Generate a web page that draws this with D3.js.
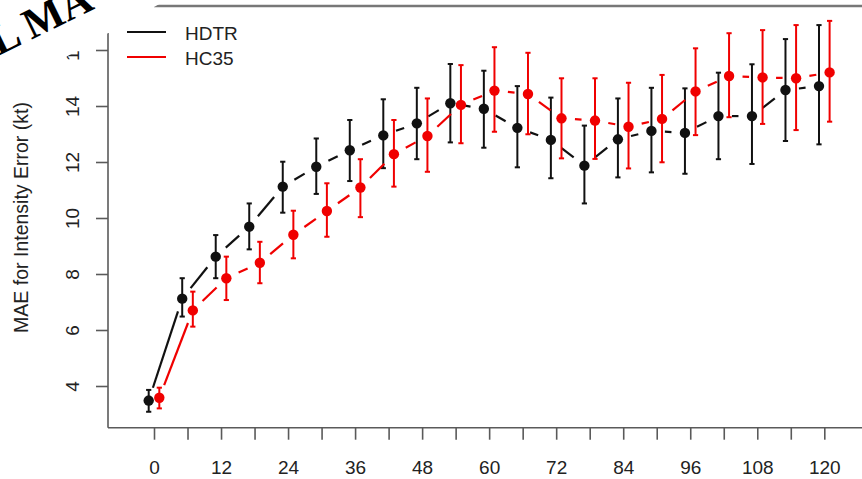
<!DOCTYPE html>
<html>
<head>
<meta charset="utf-8">
<script src="https://cdn.jsdelivr.net/npm/d3@7/dist/d3.min.js"></script>
<style>
  body { margin: 0; background: #fff; }
  svg { display: block; }
</style>
</head>
<body>
<svg id="chart" width="862" height="479"></svg>
<script>
// Forecast lead times (h)
const hours = [0, 6, 12, 18, 24, 30, 36, 42, 48, 54, 60, 66, 72, 78, 84, 90, 96, 102, 108, 114, 120];
const xTickLabels = [0, 12, 24, 36, 48, 60, 72, 84, 96, 108, 120];
const yTicks = [4, 6, 8, 10, 12, 14, 16];

// HDTR: mean absolute intensity error and its interval
const hdtr   = [3.48, 7.12, 8.62, 9.69, 11.12, 11.83, 12.42, 12.95, 13.38, 14.10, 13.90, 13.22, 12.79, 11.87, 12.81, 13.11, 13.04, 13.64, 13.64, 14.57, 14.71];
const hdtrLo = [3.08, 6.48, 7.85, 8.88, 10.19, 10.86, 11.32, 11.78, 12.10, 12.70, 12.51, 11.81, 11.42, 10.52, 11.45, 11.63, 11.58, 12.10, 11.93, 12.75, 12.63];
const hdtrHi = [3.86, 7.85, 9.39, 10.52, 12.01, 12.84, 13.50, 14.24, 14.65, 15.50, 15.26, 14.71, 14.30, 13.30, 14.27, 14.65, 14.63, 15.19, 15.49, 16.39, 16.89];

// HC35: mean absolute intensity error and its interval
const hc35   = [3.58, 6.70, 7.85, 8.40, 9.40, 10.25, 11.09, 12.28, 12.93, 14.04, 14.55, 14.43, 13.56, 13.48, 13.26, 13.54, 14.52, 15.07, 15.02, 14.99, 15.20];
const hc35Lo = [3.20, 6.12, 7.07, 7.67, 8.56, 9.33, 10.03, 11.12, 11.65, 12.67, 13.08, 12.99, 12.13, 12.11, 11.77, 11.99, 12.96, 13.60, 13.36, 13.14, 13.44];
const hc35Hi = [3.94, 7.37, 8.62, 9.15, 10.26, 11.24, 12.10, 13.50, 14.27, 15.46, 16.10, 15.90, 14.99, 14.99, 14.83, 15.11, 16.06, 16.60, 16.71, 16.89, 17.04];

const seriesNames = ["HDTR", "HC35"];
const seriesColors = ["#111111", "#f00000"];

const svg = d3.select("#chart");
const FONT = "'Liberation Sans', Arial, Helvetica, sans-serif";
const AXIS = "#5a5a5a";
const TEXT = "#222";

const x = d3.scaleLinear().domain([0, 120]).range([154, 824.3]);
const y = d3.scaleLinear().domain([4, 16]).range([386, 50]);
const xAxisY = 427.7, yAxisX = 108, plotTop = 33;

// Axis lines (L-shaped frame)
svg.append("line").attr("x1", yAxisX).attr("x2", 862).attr("y1", xAxisY).attr("y2", xAxisY)
  .attr("stroke", AXIS).attr("stroke-width", 1.6);
svg.append("line").attr("x1", yAxisX).attr("x2", yAxisX).attr("y1", plotTop).attr("y2", xAxisY)
  .attr("stroke", AXIS).attr("stroke-width", 1.6);

// Bottom axis: tick every 6 h, labels every 12 h
const xAxis = d3.axisBottom(x).tickValues(hours).tickSize(12)
  .tickFormat(d => xTickLabels.includes(d) ? String(d) : "");
const gx = svg.append("g").attr("transform", `translate(0,${xAxisY})`).call(xAxis);
gx.select(".domain").remove();
gx.selectAll(".tick line").attr("stroke", AXIS).attr("stroke-width", 1.6);
gx.selectAll(".tick text").attr("y", 46).attr("dy", 0)
  .attr("fill", TEXT).style("font-family", FONT).style("font-size", "19px");

// Left axis with rotated labels
const yAxis = d3.axisLeft(y).tickValues(yTicks).tickSize(12).tickFormat(d => String(d));
const gy = svg.append("g").attr("transform", `translate(${yAxisX},0)`).call(yAxis);
gy.select(".domain").remove();
gy.selectAll(".tick line").attr("stroke", AXIS).attr("stroke-width", 1.6);
gy.selectAll(".tick text").attr("x", null).attr("dy", null)
  .attr("transform", "translate(-29,0) rotate(-90)")
  .attr("text-anchor", "middle")
  .attr("fill", TEXT).style("font-family", FONT).style("font-size", "19px");

// Y axis title
svg.append("text")
  .attr("transform", `translate(28,${(93 + 342) / 2}) rotate(-90)`)
  .attr("text-anchor", "middle")
  .attr("fill", TEXT).style("font-family", FONT).style("font-size", "19.5px")
  .text("MAE for Intensity Error (kt)");

// Series: slight horizontal dodge so bars do not overlap
const series = [
  { name: seriesNames[0], color: seriesColors[0], dodge: -0.95, v: hdtr, lo: hdtrLo, hi: hdtrHi },
  { name: seriesNames[1], color: seriesColors[1], dodge: 0.95, v: hc35, lo: hc35Lo, hi: hc35Hi }
];

const GAP = 13.5;  // space left around each point by the connecting segments
const CAP = 2.6;   // half-width of error bar caps

series.forEach(s => {
  const pts = hours.map((h, i) => ({ h, px: x(h + s.dodge), py: y(s.v[i]), lo: y(s.lo[i]), hi: y(s.hi[i]) }));
  const g = svg.append("g");

  // connecting segments, broken around each point
  const segs = d3.pairs(pts).map(([a, b]) => {
    const dx = b.px - a.px, dy = b.py - a.py, len = Math.hypot(dx, dy);
    const ux = dx / len, uy = dy / len;
    return { x1: a.px + ux * GAP, y1: a.py + uy * GAP, x2: b.px - ux * GAP, y2: b.py - uy * GAP, ok: len > 2 * GAP };
  }).filter(d => d.ok);
  g.selectAll("line.seg").data(segs).join("line").attr("class", "seg")
    .attr("x1", d => d.x1).attr("y1", d => d.y1).attr("x2", d => d.x2).attr("y2", d => d.y2)
    .attr("stroke", s.color).attr("stroke-width", 2.2);

  // error bars
  g.selectAll("line.bar").data(pts).join("line").attr("class", "bar")
    .attr("x1", d => d.px).attr("x2", d => d.px).attr("y1", d => d.lo).attr("y2", d => d.hi)
    .attr("stroke", s.color).attr("stroke-width", 2);
  ["lo", "hi"].forEach(k => {
    g.selectAll("line.cap" + k).data(pts).join("line").attr("class", "cap" + k)
      .attr("x1", d => d.px - CAP).attr("x2", d => d.px + CAP).attr("y1", d => d[k]).attr("y2", d => d[k])
      .attr("stroke", s.color).attr("stroke-width", 2);
  });

  // points
  g.selectAll("circle").data(pts).join("circle")
    .attr("cx", d => d.px).attr("cy", d => d.py).attr("r", 5.2)
    .attr("fill", s.color);
});

// Legend
series.forEach((s, i) => {
  const ly = 32 + i * 25;
  svg.append("line").attr("x1", 127).attr("x2", 166).attr("y1", ly).attr("y2", ly)
    .attr("stroke", s.color).attr("stroke-width", 2);
  svg.append("text").attr("x", 185).attr("y", ly + 7.5)
    .attr("fill", TEXT).style("font-family", FONT).style("font-size", "19px")
    .text(s.name);
});

// Top rule
svg.append("line").attr("x1", 154).attr("x2", 862).attr("y1", 6).attr("y2", 6)
  .attr("stroke", "#777").attr("stroke-width", 2.5);

// Corner stamp: white band with rotated serif lettering
const stamp = svg.append("g").attr("transform", "translate(0,94.5) rotate(-29.6)");
stamp.append("rect").attr("x", -60).attr("y", -200).attr("width", 420).attr("height", 200).attr("fill", "#fff");
svg.append("text")
  .attr("transform", "translate(-2,56) rotate(-26)")
  .attr("fill", "#000")
  .style("font-family", "'Liberation Serif', 'Times New Roman', serif")
  .style("font-weight", "bold").style("font-size", "43px")
  .text("L MA");
</script>
</body>
</html>
